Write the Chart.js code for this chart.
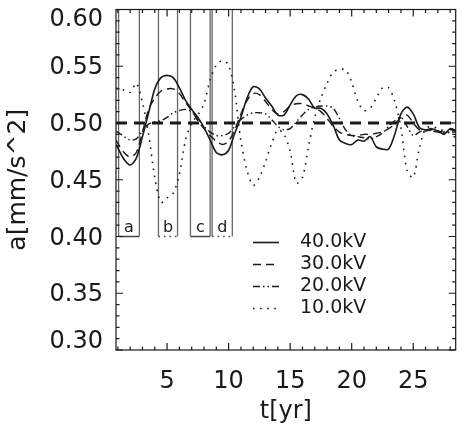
<!DOCTYPE html>
<html>
<head>
<meta charset="utf-8">
<script src="https://cdn.jsdelivr.net/npm/chart.js@4.4.0/dist/chart.umd.min.js"></script>
<style>
  html, body { margin: 0; padding: 0; background: #fff; }
  #wrap { width: 463px; height: 430px; }
</style>
</head>
<body>
<div id="wrap"><canvas id="accelChart" width="463" height="430"></canvas></div>
<script>
// time [yr]
const times = [0.85, 1.0, 1.5, 2.0, 2.5, 3.0, 3.5, 4.0, 4.5, 5.0,
  5.5, 6.0, 6.5, 7.0, 7.5, 8.0, 8.5, 9.0, 9.5, 10.0,
  10.5, 11.0, 11.5, 12.0, 12.5, 13.0, 13.5, 14.0, 14.5, 15.0,
  15.5, 16.0, 16.5, 17.0, 17.5, 18.0, 18.5, 19.0, 19.5, 20.0,
  20.5, 21.0, 21.5, 22.0, 22.5, 23.0, 23.5, 24.0, 24.5, 25.0,
  25.5, 26.0, 26.5, 27.0, 27.5, 28.0, 28.5];

// acceleration [mm/s^2] per voltage
const acc40 = [0.481, 0.478, 0.468, 0.463, 0.469, 0.488, 0.509, 0.530, 0.540, 0.542,
  0.540, 0.531, 0.520, 0.512, 0.505, 0.496, 0.485, 0.474, 0.472, 0.476,
  0.491, 0.505, 0.522, 0.532, 0.530, 0.522, 0.515, 0.507, 0.507, 0.516,
  0.524, 0.525, 0.521, 0.513, 0.513, 0.508, 0.498, 0.485, 0.482, 0.481,
  0.485, 0.484, 0.488, 0.479, 0.477, 0.477, 0.490, 0.508, 0.514, 0.508,
  0.496, 0.494, 0.495, 0.493, 0.490, 0.495, 0.493];
const acc30 = [0.485, 0.482, 0.474, 0.470, 0.474, 0.492, 0.512, 0.522, 0.528, 0.530,
  0.530, 0.526, 0.518, 0.511, 0.502, 0.495, 0.489, 0.484, 0.481, 0.484,
  0.494, 0.508, 0.520, 0.526, 0.525, 0.519, 0.512, 0.508, 0.510, 0.515,
  0.517, 0.517, 0.515, 0.513, 0.510, 0.504, 0.497, 0.492, 0.490, 0.489,
  0.489, 0.490, 0.490, 0.491, 0.492, 0.495, 0.499, 0.505, 0.507, 0.500,
  0.494, 0.493, 0.494, 0.493, 0.492, 0.494, 0.493];
const acc20 = [0.492, 0.492, 0.488, 0.485, 0.486, 0.493, 0.499, 0.501, 0.502, 0.505,
  0.509, 0.511, 0.512, 0.510, 0.504, 0.497, 0.492, 0.489, 0.489, 0.491,
  0.497, 0.503, 0.507, 0.509, 0.509, 0.508, 0.503, 0.497, 0.494, 0.495,
  0.501, 0.507, 0.512, 0.514, 0.515, 0.515, 0.513, 0.504, 0.494, 0.489,
  0.488, 0.487, 0.486, 0.488, 0.491, 0.497, 0.502, 0.505, 0.497, 0.489,
  0.492, 0.494, 0.493, 0.492, 0.491, 0.492, 0.492];
const acc10 = [0.531, 0.530, 0.529, 0.527, 0.535, 0.518, 0.490, 0.452, 0.430, 0.434,
  0.438, 0.455, 0.485, 0.500, 0.507, 0.517, 0.538, 0.551, 0.555, 0.551,
  0.527, 0.484, 0.458, 0.445, 0.452, 0.466, 0.482, 0.494, 0.490, 0.475,
  0.447, 0.452, 0.480, 0.505, 0.522, 0.535, 0.545, 0.547, 0.547, 0.536,
  0.519, 0.511, 0.513, 0.522, 0.531, 0.531, 0.519, 0.496, 0.458, 0.452,
  0.478, 0.495, 0.497, 0.495, 0.493, 0.491, 0.486];
const seriesNames = ['40.0kV', '30.0kV', '20.0kV', '10.0kV'];

// reference level
const refTimes = [0.85, 28.5];
const refValues = [0.50, 0.50];

// marked intervals
const boxNames = ['a', 'b', 'c', 'd'];
const boxLeft = [1.06, 4.3, 6.9, 8.66];
const boxRight = [2.75, 5.85, 8.5, 10.3];
const boxDotted = [false, true, false, true];
const boxTop = 0.60;
const boxBottom = 0.40;

// axes
const xRange = [0.85, 28.45];
const yRange = [0.30, 0.60];
const xTickLabels = [5, 10, 15, 20, 25];
const yTickLabels = [0.30, 0.35, 0.40, 0.45, 0.50, 0.55, 0.60];

const FONT = 'DejaVu Sans';
const INK = '#1a1a1a';

function pts(xs, ys) {
  return xs.map((t, i) => ({ x: t, y: ys[i] }));
}

function boxSides() {
  const out = [];
  boxNames.forEach((n, i) => {
    out.push({ x: boxLeft[i], y: boxTop }, { x: boxLeft[i], y: boxBottom }, { x: boxLeft[i], y: null });
    out.push({ x: boxRight[i], y: boxTop }, { x: boxRight[i], y: boxBottom }, { x: boxRight[i], y: null });
  });
  return out;
}

function boxBottoms(dotted) {
  const out = [];
  boxNames.forEach((n, i) => {
    if (boxDotted[i] !== dotted) return;
    out.push({ x: boxLeft[i], y: boxBottom }, { x: boxRight[i], y: boxBottom }, { x: boxRight[i], y: null });
  });
  return out;
}

// frame, inward ticks, y labels, box letters and the legend
const decorations = {
  id: 'decorations',
  afterDatasetsDraw(chart) {
    const { ctx, chartArea: a, scales: { x, y } } = chart;
    ctx.save();
    ctx.strokeStyle = INK;
    ctx.lineWidth = 1.2;
    ctx.setLineDash([]);
    ctx.strokeRect(a.left, a.top, a.right - a.left, a.bottom - a.top);

    ctx.beginPath();
    for (let t = 1; t <= 28; t++) {
      const px = x.getPixelForValue(t);
      const len = xTickLabels.includes(t) ? 7 : 3.5;
      ctx.moveTo(px, a.bottom); ctx.lineTo(px, a.bottom - len);
      ctx.moveTo(px, a.top); ctx.lineTo(px, a.top + len);
    }
    for (let k = 30; k <= 60; k++) {
      const py = y.getPixelForValue(k / 100);
      const len = k % 5 === 0 ? 7 : 3.5;
      ctx.moveTo(a.left, py); ctx.lineTo(a.left + len, py);
      ctx.moveTo(a.right, py); ctx.lineTo(a.right - len, py);
    }
    ctx.stroke();

    // y labels, kept inside the frame height like the original
    ctx.fillStyle = INK;
    ctx.font = '24px "' + FONT + '"';
    ctx.textAlign = 'right';
    ctx.textBaseline = 'middle';
    yTickLabels.forEach(v => {
      let py = y.getPixelForValue(v) + 2;
      py = Math.min(Math.max(py, a.top + 10.5), a.bottom - 8.5);
      ctx.fillText(v.toFixed(2), a.left - 13, py);
    });

    ctx.font = '16px "' + FONT + '"';
    ctx.textAlign = 'center';
    ctx.textBaseline = 'alphabetic';
    boxNames.forEach((n, i) => {
      const cx = x.getPixelForValue((boxLeft[i] + boxRight[i]) / 2);
      ctx.fillText(n, cx, y.getPixelForValue(boxBottom) - 5);
    });

    ctx.font = '19px "' + FONT + '"';
    ctx.textAlign = 'left';
    ctx.textBaseline = 'middle';
    seriesNames.forEach((name, i) => {
      const ds = chart.data.datasets[i];
      const ly = a.top + 233 + i * 22;
      ctx.beginPath();
      ctx.lineWidth = ds.borderWidth;
      ctx.setLineDash(ds.borderDash || []);
      ctx.moveTo(a.left + 137, ly);
      ctx.lineTo(a.left + 163, ly);
      ctx.stroke();
      ctx.fillText(name, a.left + 184, ly);
    });
    ctx.restore();
  }
};

function fixBox(size) {
  return s => {
    if (s.isHorizontal()) s.height = size; else s.width = size;
    s.paddingLeft = 0; s.paddingRight = 0; s.paddingTop = 0; s.paddingBottom = 0;
  };
}

const lineBase = { pointRadius: 0, fill: false, borderColor: INK, tension: 0.3 };

new Chart(document.getElementById('accelChart'), {
  type: 'line',
  data: {
    datasets: [
      { ...lineBase, label: seriesNames[0], data: pts(times, acc40), borderWidth: 1.6 },
      { ...lineBase, label: seriesNames[1], data: pts(times, acc30), borderWidth: 1.4, borderDash: [8, 5] },
      { ...lineBase, label: seriesNames[2], data: pts(times, acc20), borderWidth: 1.4, borderDash: [7, 3, 1.5, 3, 1.5, 3] },
      { ...lineBase, label: seriesNames[3], data: pts(times, acc10), borderWidth: 1.6, borderDash: [1.6, 5.5] },
      { ...lineBase, label: 'ref', data: pts(refTimes, refValues), borderWidth: 3, borderDash: [11, 7], tension: 0 },
      { ...lineBase, label: 'sides', data: boxSides(), borderWidth: 1.3, borderColor: '#666', tension: 0 },
      { ...lineBase, label: 'bottoms', data: boxBottoms(false), borderWidth: 1.3, borderColor: '#444', tension: 0 },
      { ...lineBase, label: 'bottomsDotted', data: boxBottoms(true), borderWidth: 1.3, borderColor: '#444', borderDash: [1.5, 4], tension: 0 }
    ]
  },
  options: {
    responsive: false,
    animation: false,
    devicePixelRatio: 1,
    events: [],
    layout: { padding: { left: 0, top: 9.5, right: 7.3, bottom: 0 } },
    plugins: { legend: { display: false }, tooltip: { enabled: false } },
    scales: {
      x: {
        type: 'linear',
        min: xRange[0],
        max: xRange[1],
        afterFit: fixBox(80),
        afterBuildTicks: s => { s.ticks = xTickLabels.map(v => ({ value: v })); },
        grid: { display: false, drawTicks: false },
        border: { display: false },
        ticks: { color: INK, font: { family: FONT, size: 24 }, padding: 17, autoSkip: false, maxRotation: 0 },
        title: { display: true, text: 't[yr]', color: INK, font: { family: FONT, size: 24 }, padding: { top: 0, bottom: 3.6 } }
      },
      y: {
        min: yRange[0],
        max: yRange[1],
        afterFit: fixBox(116),
        afterBuildTicks: s => { s.ticks = yTickLabels.map(v => ({ value: v })); },
        grid: { display: false, drawTicks: false },
        border: { display: false },
        ticks: { display: false },
        title: { display: true, text: 'a[mm/s^2]', color: INK, font: { family: FONT, size: 25 }, padding: { top: 3, bottom: 0 } }
      }
    }
  },
  plugins: [decorations]
});
</script>
</body>
</html>
